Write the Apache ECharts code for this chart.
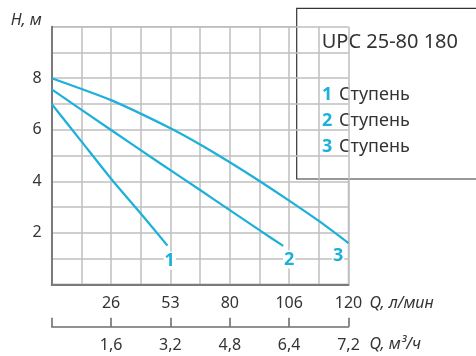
<!DOCTYPE html>
<html>
<head>
<meta charset="utf-8">
<script src="https://cdn.jsdelivr.net/npm/echarts@6/dist/echarts.min.js"></script>
<style>
html,body{margin:0;padding:0;background:#fff;}
#c{width:476px;height:356px;}
</style>
</head>
<body>
<div id="c"></div>
<script>
// x positions are in grid-column units (0..10); tick labels below map them to flow values
const xTickLpm = ['', '', '26', '', '53', '', '80', '', '106', '', '120'];
const xTickM3h = ['', '', '1,6', '', '3,2', '', '4,8', '', '6,4', '', '7,2'];
const yTicks = ['', '', '2', '', '4', '', '6', '', '8', '', ''];
const stage1 = [[0, 7.0], [1, 5.55], [2, 4.1], [3, 2.75], [3.9, 1.5]];
const stage2 = [[0, 7.57], [2, 5.99], [3.65, 4.7], [5, 3.66], [6, 2.88], [7, 2.1], [7.8, 1.49]];
const stage3 = [[0, 8.0], [2, 7.15], [4, 6.06], [5, 5.43], [6, 4.74], [7, 4.01], [8, 3.25], [9, 2.46], [10, 1.6]];
const stageNames = ['1', '2', '3'];
const modelTitle = 'UPC 25-80 180';
const stageWord = 'Ступень';

const FONT = 'Noto Sans';
const CYAN = '#1cb0da';
const TXT = '#333333';
const GRIDC = '#bfbfbf';

const chart = echarts.init(document.getElementById('c'), null, {renderer: 'canvas'});

function lineSeries(data, name, off) {
  return {
    type: 'line', name: name, data: data, xAxisIndex: 0, yAxisIndex: 0,
    showSymbol: false, symbol: 'none', smooth: 0.2,
    lineStyle: {color: CYAN, width: 2.2},
    endLabel: {
      show: true, formatter: name, color: CYAN, fontFamily: FONT, fontWeight: 'bold', fontSize: 18,
      align: 'center', verticalAlign: 'middle', distance: 0, offset: off,
      backgroundColor: '#fff', padding: [0, 1]
    },
    z: 3
  };
}

chart.setOption({
  animation: false,
  backgroundColor: '#fff',
  textStyle: {fontFamily: FONT},
  grid: {left: 51.7, top: 26.7, width: 296.8, height: 257.6, containLabel: false,
    show: true, borderColor: GRIDC, borderWidth: 1.5, backgroundColor: 'transparent'},
  xAxis: [{
    type: 'value', min: 0, max: 10, interval: 1, position: 'bottom',
    axisLine: {show: true, onZero: false, lineStyle: {color: '#7a7a7a', width: 2}},
    axisTick: {show: false},
    splitLine: {show: true, lineStyle: {color: GRIDC, width: 1.5}},
    axisLabel: {margin: 11, color: TXT, fontSize: 16, fontFamily: FONT,
      formatter: v => xTickLpm[Math.round(v)] || ''},
    name: 'Q, л/мин', nameLocation: 'end', nameGap: 21,
    nameTextStyle: {fontStyle: 'italic', fontSize: 16, color: TXT, fontFamily: FONT,
      align: 'left', verticalAlign: 'top', padding: [11, 0, 0, 0]}
  }, {
    type: 'value', min: 0, max: 10, interval: 2, position: 'bottom', offset: 42.4,
    axisLine: {show: true, onZero: false, lineStyle: {color: '#6e6e6e', width: 1.6}},
    axisTick: {show: true, inside: true, length: 9, lineStyle: {color: '#6e6e6e', width: 1.6}},
    splitLine: {show: false},
    axisLabel: {margin: 11, color: TXT, fontSize: 16, fontFamily: FONT,
      formatter: v => xTickM3h[Math.round(v)] || ''},
    name: 'Q, м³/ч', nameLocation: 'end', nameGap: 21,
    nameTextStyle: {fontStyle: 'italic', fontSize: 16, color: TXT, fontFamily: FONT,
      align: 'left', verticalAlign: 'top', padding: [10, 0, 0, 0]}
  }],
  yAxis: [{
    type: 'value', min: 0, max: 10, interval: 1,
    axisLine: {show: true, onZero: false, lineStyle: {color: '#7a7a7a', width: 2}},
    axisTick: {show: false},
    splitLine: {show: true, lineStyle: {color: GRIDC, width: 1.5}},
    axisLabel: {margin: 10, color: TXT, fontSize: 16, fontFamily: FONT,
      formatter: v => yTicks[Math.round(v)] || ''},
    name: 'H, м', nameLocation: 'end', nameGap: 6,
    nameTextStyle: {fontStyle: 'italic', fontSize: 16, color: TXT, fontFamily: FONT,
      align: 'right', verticalAlign: 'middle', padding: [0, 10, 0, 0]}
  }],
  series: [
    lineSeries(stage1, stageNames[0], [2.3, 15]),
    lineSeries(stage2, stageNames[1], [6, 13.5]),
    lineSeries(stage3, stageNames[2], [-10.3, 12.8])
  ],
  graphic: [{
    type: 'group', z: 100,
    children: [
      {type: 'rect', shape: {x: 296.7, y: 8.3, width: 200, height: 170.7},
        style: {fill: '#fff', stroke: '#333', lineWidth: 1.2}},
      {type: 'text', x: 321.7, y: 42.3,
        style: {text: modelTitle, fill: TXT, fontSize: 20, fontFamily: FONT, verticalAlign: 'middle'}},
      ...stageNames.map((n, i) => ({
        type: 'text', x: 322, y: 95 + i * 26,
        style: {
          text: '{n|' + n + '}{w|' + stageWord + '}',
          verticalAlign: 'middle',
          rich: {
            n: {fill: CYAN, fontWeight: 'bold', fontSize: 18, fontFamily: FONT, width: 17},
            w: {fill: TXT, fontSize: 18, fontFamily: FONT}
          }
        }
      }))
    ]
  }]
});
</script>
</body>
</html>
